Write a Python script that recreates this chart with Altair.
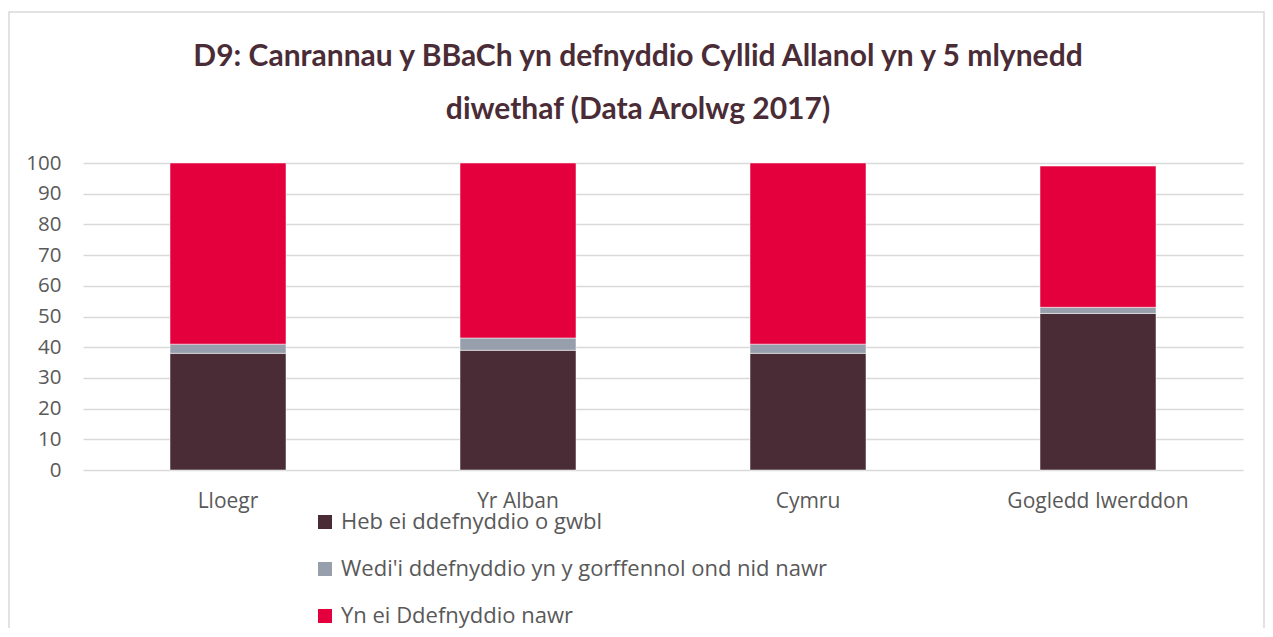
import altair as alt
import pandas as pd

countries = ["Lloegr", "Yr Alban", "Cymru", "Gogledd Iwerddon"]
series = ["Heb ei ddefnyddio o gwbl", "Wedi'i ddefnyddio yn y gorffennol ond nid nawr", "Yn ei Ddefnyddio nawr"]
never_used = [38, 39, 38, 51]
used_past = [3, 4, 3, 2]
using_now = [59, 57, 59, 46]
colors = ["#4a2c37", "#989fac", "#e4003c"]
title_line1 = "D9: Canrannau y BBaCh yn defnyddio Cyllid Allanol yn y 5 mlynedd"
title_line2 = "diwethaf (Data Arolwg 2017)"

rows = []
for i, c in enumerate(countries):
    for j, (s, vals) in enumerate(zip(series, [never_used, used_past, using_now])):
        rows.append({"country": c, "series": s, "value": vals[i], "order": j})
df = pd.DataFrame(rows)

bars = alt.Chart(df).mark_bar(stroke="white", strokeWidth=0.5).encode(
    x=alt.X("country:N", sort=countries,
            scale=alt.Scale(paddingInner=0.6, paddingOuter=0.3),
            axis=alt.Axis(title=None, labelAngle=0, labelFontSize=21, labelColor="#595959",
                          labelFont="Open Sans", domain=False, ticks=False, labelPadding=20,
                          labelLimit=0)),
    y=alt.Y("value:Q", stack="zero",
            scale=alt.Scale(domain=[0, 100], nice=False),
            axis=alt.Axis(title=None, values=list(range(0, 101, 10)), labelFontSize=20.5,
                          labelColor="#595959", labelFont="Open Sans", domain=False, ticks=False,
                          labelPadding=22, gridColor="#d9d9d9", gridWidth=1.5)),
    color=alt.Color("series:N", sort=series,
                    scale=alt.Scale(domain=series, range=colors),
                    legend=alt.Legend(title=None, orient="none", legendX=231, legendY=348,
                                      direction="vertical", symbolType="square", symbolSize=196,
                                      symbolStrokeWidth=0, labelFontSize=22, labelColor="#595959",
                                      labelFont="Open Sans", rowPadding=25, labelOffset=5, labelLimit=0)),
    order=alt.Order("order:Q"),
)

border = alt.Chart(pd.DataFrame({"a": [0]})).mark_rect(
    fill=None, stroke="#d9d9d9", strokeWidth=1.5
).encode(x=alt.value(-74), x2=alt.value(1181), y=alt.value(-151), y2=alt.value(500))

t1 = alt.Chart(pd.DataFrame({"t": [title_line1]})).mark_text(
    font="Lato", fontSize=30, fontWeight="bold", color="#4a2c37", align="center", baseline="middle"
).encode(text="t:N", x=alt.value(555), y=alt.value(-106))

t2 = alt.Chart(pd.DataFrame({"t": [title_line2]})).mark_text(
    font="Lato", fontSize=30, fontWeight="bold", color="#4a2c37", align="center", baseline="middle"
).encode(text="t:N", x=alt.value(555), y=alt.value(-53))

chart = alt.layer(border, bars, t1, t2).properties(
    width=1160, height=307,
    padding={"left": 75, "top": 155, "right": 22, "bottom": 158},
    autosize=alt.AutoSizeParams(type="none"),
).configure_view(stroke=None)

chart.save("out.html", embed_options={"renderer": "svg", "actions": False})
